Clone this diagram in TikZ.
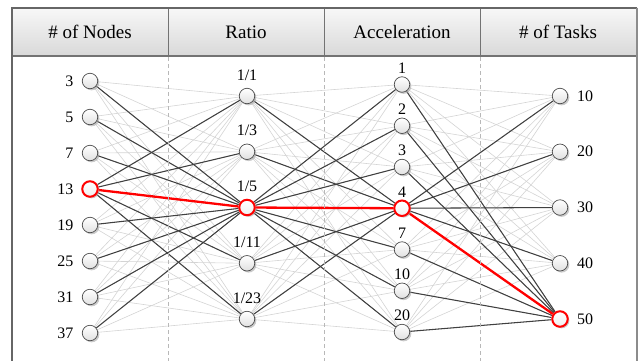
\documentclass[tikz,border=0pt]{standalone}
\usepackage{fontspec}
\setmainfont{Liberation Serif}
\usetikzlibrary{shadows}
\pgfdeclarelayer{bg}
\pgfsetlayers{bg,main}
\begin{document}
\begin{tikzpicture}[x=1pt,y=-1pt,
  vtx/.style={circle, minimum size=15.5pt, inner sep=0pt, draw=black!70, line width=0.7pt,
    top color=white, bottom color=black!12,
    drop shadow={shadow xshift=1.6pt, shadow yshift=-1.6pt, fill=black!35, opacity=0.6}},
  hot/.style={vtx, draw=red, line width=2pt, top color=white, bottom color=black!6},
  lite/.style={draw=black!17, line width=0.6pt},
  dark/.style={draw=black!75, line width=1.05pt},
  redl/.style={draw=red, line width=2.3pt},
  lbl/.style={font=\fontsize{16}{18}\selectfont, inner sep=0pt},
  hdr/.style={font=\fontsize{19}{21}\selectfont, inner sep=0pt},
  sep/.style={draw=black!28, line width=0.7pt, dash pattern=on 4pt off 3pt},
  frame/.style={draw=black!60, line width=1.1pt}]
\useasboundingbox (0,0) rectangle (641,360);
\clip (0,0) rectangle (641,360);
% header and frame
\shade[top color=black!3, bottom color=black!15] (12,8) rectangle (637,56);
\foreach \x in {168,324,480} {
  \draw[draw=black!55, line width=0.8pt] (\x,8) -- (\x,56);
  \draw[sep] (\x,57) -- (\x,362);
}
\draw[draw=black!55, line width=1.2pt] (12,56) -- (637,56);
\draw[frame] (12,370) -- (12,8) -- (637,8);
\draw[draw=black!45, line width=2pt] (637,7.5) -- (637,370);
\node[hdr] (h1) at (90,32) {\# of Nodes};
\node[hdr] (h2) at (246,32) {Ratio};
\node[hdr] (h3) at (402,32) {Acceleration};
\node[hdr] (h4) at (558,32) {\# of Tasks};
% column 1
\foreach \t [count=\i] in {3,5,7,13,19,25,31,37} {
  \ifnum\i=4
    \node[hot] (a\i) at (90,{81+36*(\i-1)}) {};
  \else
    \node[vtx] (a\i) at (90,{81+36*(\i-1)}) {};
  \fi
  \node[lbl, anchor=east] (la\i) at (73.5,{81+36*(\i-1)}) {\t};
}
% column 2
\foreach \t [count=\i] in {1/1,1/3,1/5,1/11,1/23} {
  \ifnum\i=3
    \node[hot] (b\i) at (247,{96+55.75*(\i-1)}) {};
  \else
    \node[vtx] (b\i) at (247,{96+55.75*(\i-1)}) {};
  \fi
  \node[lbl] (lb\i) at (247,{96+55.75*(\i-1)-21}) {\t};
}
% column 3
\foreach \t [count=\i] in {1,2,3,4,7,10,20} {
  \ifnum\i=4
    \node[hot] (c\i) at (402,{84.5+41.25*(\i-1)}) {};
  \else
    \node[vtx] (c\i) at (402,{84.5+41.25*(\i-1)}) {};
  \fi
  \node[lbl] (lc\i) at (402,{84.5+41.25*(\i-1)-16.5}) {\t};
}
% column 4
\foreach \t [count=\i] in {10,20,30,40,50} {
  \ifnum\i=5
    \node[hot] (d\i) at (560,{96+55.75*(\i-1)}) {};
  \else
    \node[vtx] (d\i) at (560,{96+55.75*(\i-1)}) {};
  \fi
  \node[lbl, anchor=west] (ld\i) at (577,{96+55.75*(\i-1)}) {\t};
}
\begin{pgfonlayer}{bg}
  % light edges: all pairs
  \foreach \i in {1,...,8} \foreach \j in {1,...,5} \draw[lite] (a\i) -- (b\j);
  \foreach \i in {1,...,5} \foreach \j in {1,...,7} \draw[lite] (b\i) -- (c\j);
  \foreach \i in {1,...,7} \foreach \j in {1,...,5} \draw[lite] (c\i) -- (d\j);
  % dark edges
  \foreach \i in {1,2,3,5,6,7,8} \draw[dark] (a\i) -- (b3);
  \foreach \j in {1,2,4,5} \draw[dark] (a4) -- (b\j);
  \foreach \i in {1,2,4,5} \draw[dark] (b\i) -- (c4);
  \foreach \j in {1,2,3,5,6,7} \draw[dark] (b3) -- (c\j);
  \foreach \j in {1,2,3,4} \draw[dark] (c4) -- (d\j);
  \foreach \i in {1,2,3,5,6,7} \draw[dark] (c\i) -- (d5);
  % red path
  \draw[redl] (a4) -- (b3) -- (c4) -- (d5);
\end{pgfonlayer}
\end{tikzpicture}
\end{document}
